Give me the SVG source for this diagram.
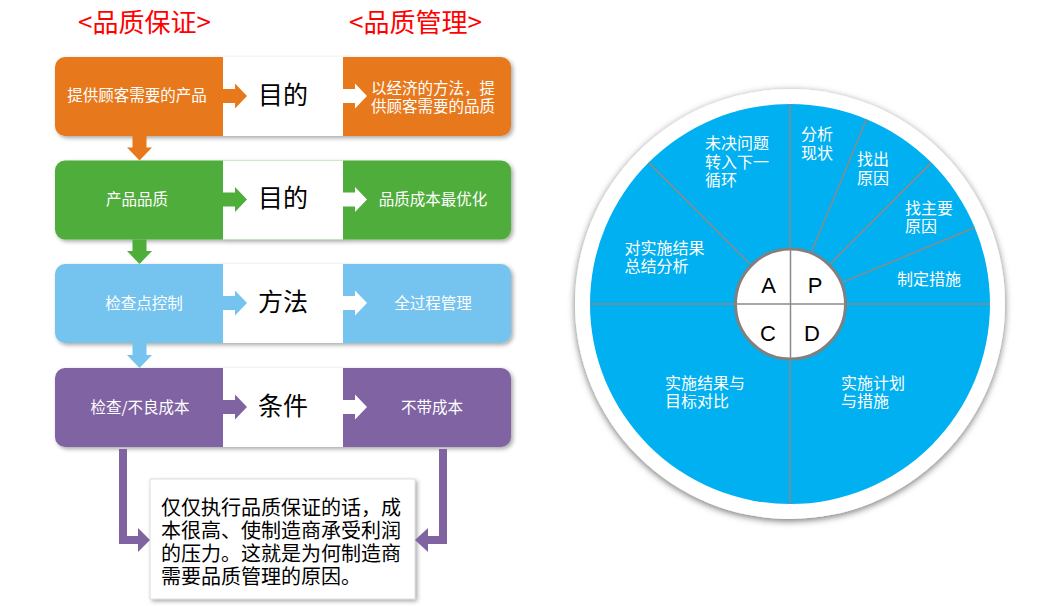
<svg xmlns="http://www.w3.org/2000/svg" width="1050" height="606" viewBox="0 0 1050 606">
<defs>
<filter id="sh" x="-10%" y="-20%" width="120%" height="150%">
<feDropShadow dx="2" dy="2" stdDeviation="2" flood-color="#000" flood-opacity="0.35"/>
</filter>
<filter id="shc" x="-10%" y="-10%" width="120%" height="120%">
<feDropShadow dx="0" dy="2" stdDeviation="3.5" flood-color="#000" flood-opacity="0.55"/>
</filter>
<style>
.cjk{font-family:"Noto Sans CJK SC","Microsoft YaHei",sans-serif;}
.hd{font-size:26px;fill:#FF0000;text-anchor:middle;}
.rt{font-size:15.5px;fill:#FFFFFF;text-anchor:middle;}
.mid{font-size:25px;fill:#000000;text-anchor:middle;}
.ct{font-size:16px;fill:#FFFFFF;}
.bx{font-size:20px;fill:#000000;}
.lt{font-family:"Liberation Sans",Arial,sans-serif;font-size:22px;fill:#000;text-anchor:middle;}
.rad{stroke:#8A8A8A;stroke-width:1.5;fill:none;}
.org{fill:#E7791C;}
.grn{fill:#4FAD3A;}
.lbl{fill:#75C4F0;}
.pur{fill:#8064A2;}
</style>
</defs>

<g id="headers" class="cjk">
<text class="hd" x="144.5" y="31.5">&lt;品质保证&gt;</text>
<text class="hd" x="415.5" y="31.5">&lt;品质管理&gt;</text>
</g>

<g id="row1">
<g filter="url(#sh)">
<rect class="org" x="55" y="57" width="456" height="79" rx="10"/>
<rect x="223" y="57" width="120" height="79" fill="#FFFFFF"/>
</g>
<g id="row1-left" class="cjk"><text class="rt" x="137" y="101">提供顾客需要的产品</text></g>
<g id="row1-mid" class="cjk"><text class="mid" x="283" y="103.5">目的</text></g>
<g id="row1-right" class="cjk"><text class="rt" x="433" y="93.5">以经济的方法，提<tspan x="433" dy="18.5">供顾客需要的品质</tspan></text></g>
</g>

<g id="row2">
<g filter="url(#sh)">
<rect class="grn" x="55" y="160.5" width="456" height="79" rx="10"/>
<rect x="223" y="160.5" width="120" height="79" fill="#FFFFFF"/>
</g>
<g id="row2-left" class="cjk"><text class="rt" x="137" y="205">产品品质</text></g>
<g id="row2-mid" class="cjk"><text class="mid" x="283" y="207">目的</text></g>
<g id="row2-right" class="cjk"><text class="rt" x="433" y="205">品质成本最优化</text></g>
</g>

<g id="row3">
<g filter="url(#sh)">
<rect class="lbl" x="55" y="264" width="456" height="79" rx="10"/>
<rect x="223" y="264" width="120" height="79" fill="#FFFFFF"/>
</g>
<g id="row3-left" class="cjk"><text class="rt" x="144" y="308.5">检查点控制</text></g>
<g id="row3-mid" class="cjk"><text class="mid" x="283" y="310.5">方法</text></g>
<g id="row3-right" class="cjk"><text class="rt" x="433" y="308.5">全过程管理</text></g>
</g>

<g id="row4">
<g filter="url(#sh)">
<rect class="pur" x="55" y="368" width="456" height="79" rx="10"/>
<rect x="223" y="368" width="120" height="79" fill="#FFFFFF"/>
</g>
<g id="row4-left" class="cjk"><text class="rt" x="140" y="412.5">检查/不良成本</text></g>
<g id="row4-mid" class="cjk"><text class="mid" x="283" y="414.5">条件</text></g>
<g id="row4-right" class="cjk"><text class="rt" x="432" y="412.5">不带成本</text></g>
</g>

<g id="note">
<rect x="150" y="479" width="265" height="120" fill="#FFFFFF" stroke="#C8C8C8" stroke-width="0.6" filter="url(#sh)"/>
<g class="cjk">
<text class="bx" x="161" y="514.5">仅仅执行品质保证的话，成<tspan x="161" dy="23">本很高、使制造商承受利润</tspan><tspan x="161" dy="23">的压力。这就是为何制造商</tspan><tspan x="161" dy="23">需要品质管理的原因。</tspan></text>
</g>
</g>

<g id="connectors">
<polygon class="org" points="223,89 235,89 235,83.5 247,96 235,108.5 235,103 223,103"/>
<polygon fill="#FFFFFF" points="343,89 355,89 355,83.5 367,96 355,108.5 355,103 343,103"/>
<polygon class="grn" points="223,192.5 235,192.5 235,187 247,199.5 235,212 235,206.5 223,206.5"/>
<polygon fill="#FFFFFF" points="343,192.5 355,192.5 355,187 367,199.5 355,212 355,206.5 343,206.5"/>
<polygon class="lbl" points="223,296 235,296 235,290.5 247,303 235,315.5 235,310 223,310"/>
<polygon fill="#FFFFFF" points="343,296 355,296 355,290.5 367,303 355,315.5 355,310 343,310"/>
<polygon class="pur" points="223,400 235,400 235,394.5 247,407 235,419.5 235,414 223,414"/>
<polygon fill="#FFFFFF" points="343,400 355,400 355,394.5 367,407 355,419.5 355,414 343,414"/>

<polygon class="org" points="132.5,136 146.5,136 146.5,147.5 152,147.5 139.5,160.5 127,147.5 132.5,147.5"/>
<polygon class="grn" points="132.5,239.5 146.5,239.5 146.5,251 152,251 139.5,264 127,251 132.5,251"/>
<polygon class="lbl" points="132.5,343 146.5,343 146.5,355 152,355 139.5,368 127,355 132.5,355"/>

<path d="M123 449 V540 H139" fill="none" stroke="#8064A2" stroke-width="8"/>
<polygon class="pur" points="138,528 150,540 138,552"/>
<path d="M443 449 V540 H427" fill="none" stroke="#8064A2" stroke-width="8"/>
<polygon class="pur" points="428,528 415,540 428,552"/>
</g>

<g id="pdca">
<circle cx="790" cy="304" r="215" fill="#FFFFFF" filter="url(#shc)"/>
<circle cx="790" cy="304" r="200" fill="#00B0F0"/>
<line class="rad" x1="790" y1="104" x2="790" y2="504"/>
<line class="rad" x1="590" y1="304" x2="990" y2="304"/>
<line class="rad" x1="842.2" y1="282.4" x2="974.8" y2="227.5"/>
<line class="rad" x1="830" y1="264" x2="931.4" y2="162.6"/>
<line class="rad" x1="811.6" y1="251.8" x2="866.5" y2="119.2"/>
<line class="rad" x1="750" y1="264" x2="648.6" y2="162.6"/>
<circle cx="790.5" cy="304" r="55" fill="#FFFFFF" stroke="#808080" stroke-width="3"/>
<line class="rad" x1="790.5" y1="249" x2="790.5" y2="359"/>
<line class="rad" x1="735.5" y1="304" x2="845.5" y2="304"/>
<text class="lt" x="768.5" y="293">A</text>
<text class="lt" x="815" y="293">P</text>
<text class="lt" x="768" y="341">C</text>
<text class="lt" x="812" y="341">D</text>
<g class="cjk">
<text class="ct" x="801" y="140">分析<tspan x="801" dy="18.5">现状</tspan></text>
<text class="ct" x="857" y="165">找出<tspan x="857" dy="19">原因</tspan></text>
<text class="ct" x="905" y="213.5">找主要<tspan x="905" dy="18.5">原因</tspan></text>
<text class="ct" x="897" y="285">制定措施</text>
<text class="ct" x="705" y="149">未决问题<tspan x="705" dy="18.5">转入下一</tspan><tspan x="705" dy="18.5">循环</tspan></text>
<text class="ct" x="624.5" y="253.5">对实施结果<tspan x="624.5" dy="18.5">总结分析</tspan></text>
<text class="ct" x="665" y="389">实施结果与<tspan x="665" dy="18">目标对比</tspan></text>
<text class="ct" x="841" y="389">实施计划<tspan x="841" dy="18">与措施</tspan></text>
</g>
</g>
</svg>
